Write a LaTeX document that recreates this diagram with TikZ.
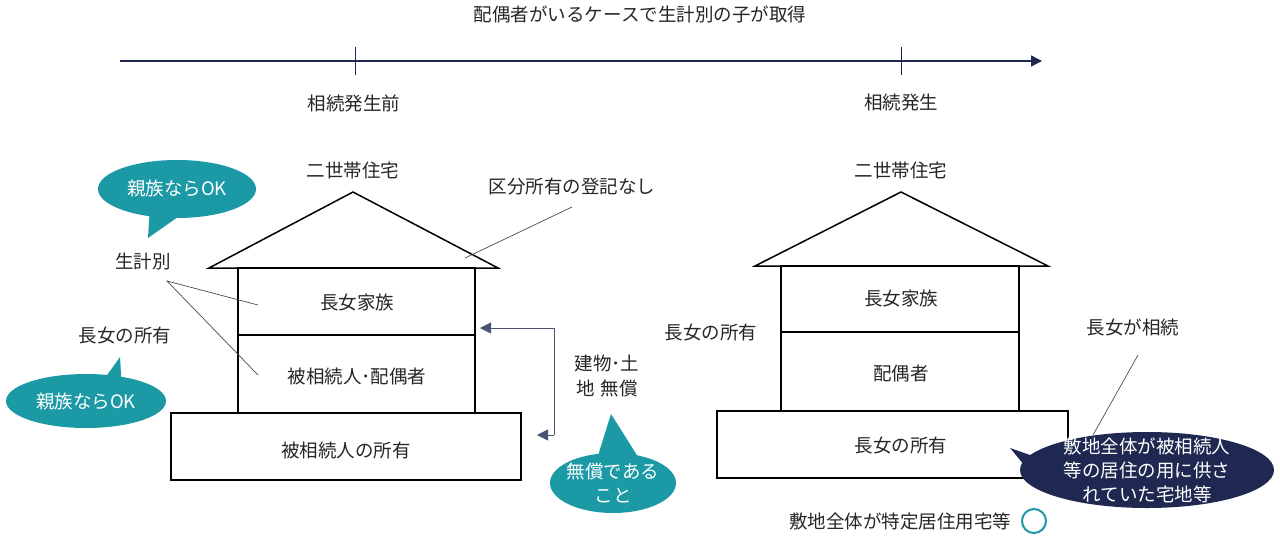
\documentclass[tikz,border=0pt]{standalone}
\usepackage{fontspec}
\setmainfont{Noto Sans CJK JP}
\usetikzlibrary{arrows.meta}
\definecolor{teal1}{HTML}{1B9AA5}
\definecolor{navy1}{HTML}{1E2850}
\definecolor{txt}{HTML}{262626}
\tikzset{
  lbl/.style={text=txt,font=\fontsize{18.5}{25}\selectfont,inner sep=0pt,align=center},
  wlbl/.style={text=white,font=\fontsize{18.5}{24}\selectfont,inner sep=0pt,align=center},
  house/.style={draw=black,line width=1.5pt},
  leader/.style={draw=black!70,line width=0.7pt},
  brk/.style={draw=navy1!80,line width=0.8pt,-{Triangle[length=11pt,width=11pt]}},
}
\begin{document}
\begin{tikzpicture}[x=1pt,y=-1pt]
\useasboundingbox (0,0) rectangle (1280,541);
\fill[white] (0,0) rectangle (1280,541);
% title and timeline
\node[lbl] (title) at (640,14) {配偶者がいるケースで生計別の子が取得};
\coordinate (tl0) at (120,61);
\coordinate (tl1) at (1042,61);
\draw[navy1,line width=1.5pt,-{Triangle[length=11pt,width=11pt]}] (tl0) -- (tl1);
\draw[navy1,line width=0.9pt] (355,47) -- (355,75);
\draw[navy1,line width=0.9pt] (901,47) -- (901,75);
\node[lbl] (t1) at (354,103) {相続発生前};
\node[lbl] (t2) at (901,103) {相続発生};
% ---- left house
\node[lbl] (lh) at (353,170) {二世帯住宅};
\draw[house] (209,268) -- (353,192) -- (498,268) -- cycle;
\draw[house] (238,268) rectangle (475,413);
\draw[house] (238,335) -- (475,335);
\draw[house] (171,413) rectangle (521,480);
\node[lbl] (l1) at (357,302) {長女家族};
\node[lbl] (l2) at (357,376) {被相続人･配偶者};
\node[lbl] (l3) at (346,450) {被相続人の所有};
\node[lbl] (kubun) at (572,187) {区分所有の登記なし};
\coordinate (kubunE) at (465,258);
\draw[leader] (572,207) -- (kubunE);
\node[lbl] (seikei) at (143,261) {生計別};
\coordinate (sA) at (167,281);
\coordinate (sB) at (258,305);
\coordinate (sC) at (258,375);
\draw[leader] (sB) -- (sA) -- (sC);
\node[lbl] (lown) at (125,336) {長女の所有};
% bubble top-left
\fill[teal1] (177,189) ellipse [x radius=79,y radius=29];
\fill[teal1] (150,205) -- (148,238) -- (185,212) -- cycle;
\node[wlbl] (b1) at (177,188) {親族ならOK};
% bubble bottom-left
\fill[teal1] (86,401) ellipse [x radius=80,y radius=27];
\fill[teal1] (100,385) -- (120,357) -- (122,390) -- cycle;
\node[wlbl] (b2) at (86,401) {親族ならOK};
% bracket arrows
\coordinate (br1) at (554,328);
\coordinate (br2) at (554,435);
\coordinate (brT) at (480,328);
\coordinate (brB) at (537,435);
\draw[navy1!80,line width=0.8pt] (br1) -- (br2);
\draw[brk] (br1) -- (brT);
\draw[brk] (br2) -- (brB);
\node[lbl] (free) at (607,376) {建物･土\\地\hspace{6pt}無償};
% bubble free
\fill[teal1] (613,483) ellipse [x radius=63,y radius=30];
\fill[teal1] (596,462) -- (611,414) -- (640,460) -- cycle;
\node[wlbl] (b3) at (613,483) {無償である\\こと};
% ---- right house
\node[lbl] (rh) at (901,170) {二世帯住宅};
\draw[house] (755,266) -- (901,192) -- (1048,266) -- cycle;
\draw[house] (781,266) rectangle (1019,411);
\draw[house] (781,332) -- (1019,332);
\draw[house] (717,411) rectangle (1068,478);
\node[lbl] (r1) at (901,298) {長女家族};
\node[lbl] (r2) at (901,373) {配偶者};
\node[lbl] (r3) at (901,446) {長女の所有};
\node[lbl] (rown) at (711,333) {長女の所有};
\node[lbl] (inh) at (1133,327) {長女が相続};
\coordinate (inhE) at (1093,435);
\draw[leader] (1138,355) -- (inhE);
% dark bubble
\fill[navy1] (1147,470) ellipse [x radius=127,y radius=38];
\fill[navy1] (1030,455) -- (1010,448) -- (1035,478) -- cycle;
\node[wlbl] (b4) at (1147,470) {敷地全体が被相続人\\等の居住の用に供さ\\れていた宅地等};
% bottom note
\node[lbl] (note) at (900,521) {敷地全体が特定居住用宅等};
\draw[teal1,line width=2pt] (1034,521) circle [radius=12];
\end{tikzpicture}
\end{document}
